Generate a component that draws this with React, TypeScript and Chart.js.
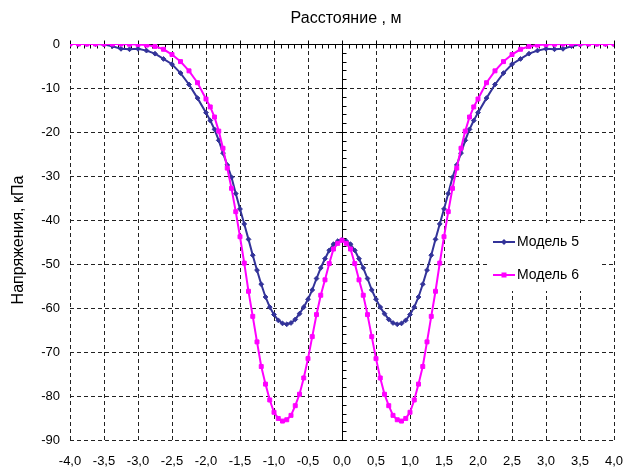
import React, { useEffect, useRef } from "react";
import { Chart, registerables } from "chart.js";

Chart.register(...registerables);

// ---------- data ----------
const xPositions = [
  -4, -3.875, -3.75, -3.625, -3.5, -3.375, -3.25, -3.125, -3, -2.875, -2.75, -2.625, -2.5, -2.375, -2.25, -2.125,
  -2, -1.9375, -1.875, -1.8125, -1.75, -1.6875, -1.625, -1.5625, -1.5, -1.4375, -1.375, -1.3125, -1.25, -1.1875,
  -1.125, -1.0625, -1, -0.9375, -0.875, -0.8125, -0.75, -0.6875, -0.625, -0.5625, -0.5, -0.4375, -0.375, -0.3125,
  -0.25, -0.1875, -0.125, -0.0625, 0,
  0.0625, 0.125, 0.1875, 0.25, 0.3125, 0.375, 0.4375, 0.5, 0.5625, 0.625, 0.6875, 0.75, 0.8125, 0.875, 0.9375, 1,
  1.0625, 1.125, 1.1875, 1.25, 1.3125, 1.375, 1.4375, 1.5, 1.5625, 1.625, 1.6875, 1.75, 1.8125, 1.875, 1.9375, 2,
  2.125, 2.25, 2.375, 2.5, 2.625, 2.75, 2.875, 3, 3.125, 3.25, 3.375, 3.5, 3.625, 3.75, 3.875, 4,
];

const model5 = [
  0, 0, 0, 0, -0.1, -0.5, -1.1, -1.2, -1.1, -1.5, -2.2, -3.4, -4.6, -6.6, -9.2, -12.3,
  -15.6, -17.4, -19.4, -21.9, -24.8, -27.5, -30.3, -34.0, -37.5, -40.9, -44.4, -48.0, -51.4, -54.6,
  -57.5, -59.8, -61.5, -62.8, -63.5, -63.7, -63.4, -62.6, -61.3, -59.8, -58.0, -55.9, -53.3, -50.9,
  -48.8, -46.9, -45.5, -44.8, -44.5,
  -44.8, -45.5, -46.9, -48.8, -50.9, -53.3, -55.9, -58.0, -59.8, -61.3, -62.6, -63.4, -63.7, -63.5, -62.8, -61.5,
  -59.8, -57.5, -54.6, -51.4, -48.0, -44.4, -40.9, -37.5, -34.0, -30.3, -27.5, -24.8, -21.9, -19.4, -17.4, -15.6,
  -12.3, -9.2, -6.6, -4.6, -3.4, -2.2, -1.5, -1.1, -1.2, -1.1, -0.5, -0.1, 0, 0, 0, 0,
];

const model6 = [
  0, 0, 0, 0, 0, 0, 0, -0.05, -0.1, -0.25, -0.55, -1.2, -2.4, -4.0, -6.1, -8.8,
  -12.5, -14.3, -16.6, -19.8, -23.7, -28.2, -32.8, -38.1, -43.8, -49.8, -56.2, -61.9, -67.7, -73.3,
  -77.3, -80.9, -83.7, -85.1, -85.7, -85.4, -84.4, -82.2, -79.6, -75.9, -71.5, -66.5, -61.5, -57.1,
  -53.6, -49.9, -46.6, -45.3, -44.6,
  -45.3, -46.6, -49.9, -53.6, -57.1, -61.5, -66.5, -71.5, -75.9, -79.6, -82.2, -84.4, -85.4, -85.7, -85.1, -83.7,
  -80.9, -77.3, -73.3, -67.7, -61.9, -56.2, -49.8, -43.8, -38.1, -32.8, -28.2, -23.7, -19.8, -16.6, -14.3, -12.5,
  -8.8, -6.1, -4.0, -2.4, -1.2, -0.55, -0.25, -0.1, -0.05, 0, 0, 0, 0, 0, 0, 0,
];

const xTickValues = [-4, -3.5, -3, -2.5, -2, -1.5, -1, -0.5, 0, 0.5, 1, 1.5, 2, 2.5, 3, 3.5, 4];
const yTickValues = [0, -10, -20, -30, -40, -50, -60, -70, -80, -90];
const seriesNames = ["Модель 5", "Модель 6"];
const xTitle = "Расстояние , м";
const yTitle = "Напряжения, кПа";

// ---------- styles ----------
const FONT = '"Liberation Sans", Arial, Helvetica, sans-serif';
const NAVY = "#333399";
const MAGENTA = "#FF00FF";
const GRID = "#222222";

const formatX = (v: number) => v.toFixed(1).replace(".", ",");

const axesAtZeroPlugin = {
  id: "axesAtZero",
  beforeDatasetsDraw(chart: any) {
    const { ctx, chartArea, scales } = chart;
    const xs = scales.x;
    const ys = scales.y;
    const y0 = Math.round(ys.getPixelForValue(0)) + 0.5;
    const x0 = Math.round(xs.getPixelForValue(0)) + 0.5;
    ctx.save();
    ctx.strokeStyle = "#000";
    ctx.lineWidth = 1;
    ctx.setLineDash([]);
    ctx.beginPath();
    ctx.moveTo(chartArea.left, y0);
    ctx.lineTo(chartArea.right, y0);
    ctx.moveTo(x0, chartArea.top);
    ctx.lineTo(x0, chartArea.bottom);
    for (let i = -40; i <= 40; i++) {
      const px = Math.round(xs.getPixelForValue(i / 10)) + 0.5;
      const major = i % 5 === 0;
      ctx.moveTo(px, major ? y0 - 4 : y0);
      ctx.lineTo(px, y0 + 4);
    }
    for (let j = 0; j >= -90; j -= 2) {
      const py = Math.round(ys.getPixelForValue(j)) + 0.5;
      const major = j % 10 === 0;
      ctx.moveTo(major ? x0 - 4 : x0, py);
      ctx.lineTo(x0 + 4, py);
    }
    ctx.stroke();
    ctx.restore();
  },
};

const titlesPlugin = {
  id: "titles",
  afterDraw(chart: any) {
    const { ctx, chartArea } = chart;
    ctx.save();
    ctx.fillStyle = "#000";
    ctx.font = `16px ${FONT}`;
    ctx.textAlign = "center";
    ctx.textBaseline = "middle";
    ctx.fillText(xTitle, (chartArea.left + chartArea.right) / 2 + 4, 19);
    ctx.translate(19, (chartArea.top + chartArea.bottom) / 2 - 2);
    ctx.rotate(-Math.PI / 2);
    ctx.fillText(yTitle, 0, 0);
    ctx.restore();
  },
};

const legendPlugin = {
  id: "boxLegend",
  afterDatasetsDraw(chart: any) {
    const { ctx, chartArea } = chart;
    const left = chartArea.right - 127;
    const top = chartArea.top + 181;
    ctx.save();
    ctx.fillStyle = "#fff";
    ctx.fillRect(left, top, 115, 66);
    const rows = [
      { name: seriesNames[0], color: NAVY, shape: "diamond" },
      { name: seriesNames[1], color: MAGENTA, shape: "square" },
    ];
    rows.forEach((r, i) => {
      const cy = top + 17 + i * 33;
      ctx.strokeStyle = r.color;
      ctx.fillStyle = r.color;
      ctx.lineWidth = 2;
      ctx.beginPath();
      ctx.moveTo(left + 6, cy);
      ctx.lineTo(left + 28, cy);
      ctx.stroke();
      const mx = left + 17;
      ctx.beginPath();
      if (r.shape === "square") {
        ctx.rect(mx - 2.5, cy - 2.5, 5, 5);
      } else {
        ctx.moveTo(mx, cy - 3);
        ctx.lineTo(mx + 3, cy);
        ctx.lineTo(mx, cy + 3);
        ctx.lineTo(mx - 3, cy);
        ctx.closePath();
      }
      ctx.fill();
      ctx.fillStyle = "#000";
      ctx.font = `14px ${FONT}`;
      ctx.textAlign = "left";
      ctx.textBaseline = "middle";
      ctx.fillText(r.name, left + 30, cy);
    });
    ctx.restore();
  },
};

export default function App() {
  const canvasRef = useRef<HTMLCanvasElement | null>(null);

  useEffect(() => {
    document.body.style.margin = "0";
    const canvas = canvasRef.current;
    if (!canvas) return;

    const pts = (ys: number[]) => xPositions.map((x, i) => ({ x, y: ys[i] }));

    const chart = new Chart(canvas, {
      type: "scatter",
      data: {
        datasets: [
          {
            label: seriesNames[0],
            data: pts(model5),
            showLine: true,
            borderColor: NAVY,
            backgroundColor: NAVY,
            borderWidth: 2,
            pointStyle: "rectRot",
            pointRadius: 2.4,
            pointBorderWidth: 1,
            tension: 0,
            order: 1,
          },
          {
            label: seriesNames[1],
            data: pts(model6),
            showLine: true,
            borderColor: MAGENTA,
            backgroundColor: MAGENTA,
            borderWidth: 2,
            pointStyle: "rect",
            pointRadius: 2.8,
            pointBorderWidth: 1,
            tension: 0,
            order: 0,
          },
        ],
      },
      options: {
        animation: false,
        responsive: false,
        devicePixelRatio: 1,
        layout: { padding: { top: 44, right: 10, left: 0, bottom: 0 } },
        plugins: {
          legend: { display: false },
          title: { display: false },
          tooltip: { enabled: false },
        },
        scales: {
          x: {
            type: "linear",
            position: "bottom",
            min: -4,
            max: 4,
            afterBuildTicks: (s: any) => {
              s.ticks = xTickValues.map((v) => ({ value: v }));
            },
            afterFit: (s: any) => {
              s.height = 27;
              s.paddingLeft = 0;
              s.paddingRight = 0;
            },
            ticks: {
              autoSkip: false,
              maxRotation: 0,
              minRotation: 0,
              padding: 14,
              color: "#000",
              font: { family: FONT, size: 13 },
              callback: (v: any) => formatX(Number(v)),
            },
            grid: { color: GRID, lineWidth: 1, drawTicks: false },
            border: { display: false, dash: [4, 3] },
          },
          y: {
            type: "linear",
            min: -90,
            max: 0,
            afterBuildTicks: (s: any) => {
              s.ticks = yTickValues.map((v) => ({ value: v }));
            },
            afterFit: (s: any) => {
              s.width = 70;
              s.paddingTop = 0;
              s.paddingBottom = 0;
            },
            ticks: {
              padding: 10,
              color: "#000",
              font: { family: FONT, size: 13 },
              callback: (v: any) => String(v),
            },
            grid: { color: GRID, lineWidth: 1, drawTicks: false },
            border: { display: false, dash: [4, 3] },
          },
        },
      },
      plugins: [axesAtZeroPlugin, legendPlugin, titlesPlugin],
    });

    return () => chart.destroy();
  }, []);

  return (
    <div style={{ width: 624, height: 467, background: "#fff" }}>
      <canvas ref={canvasRef} width={624} height={467} style={{ display: "block" }} />
    </div>
  );
}
